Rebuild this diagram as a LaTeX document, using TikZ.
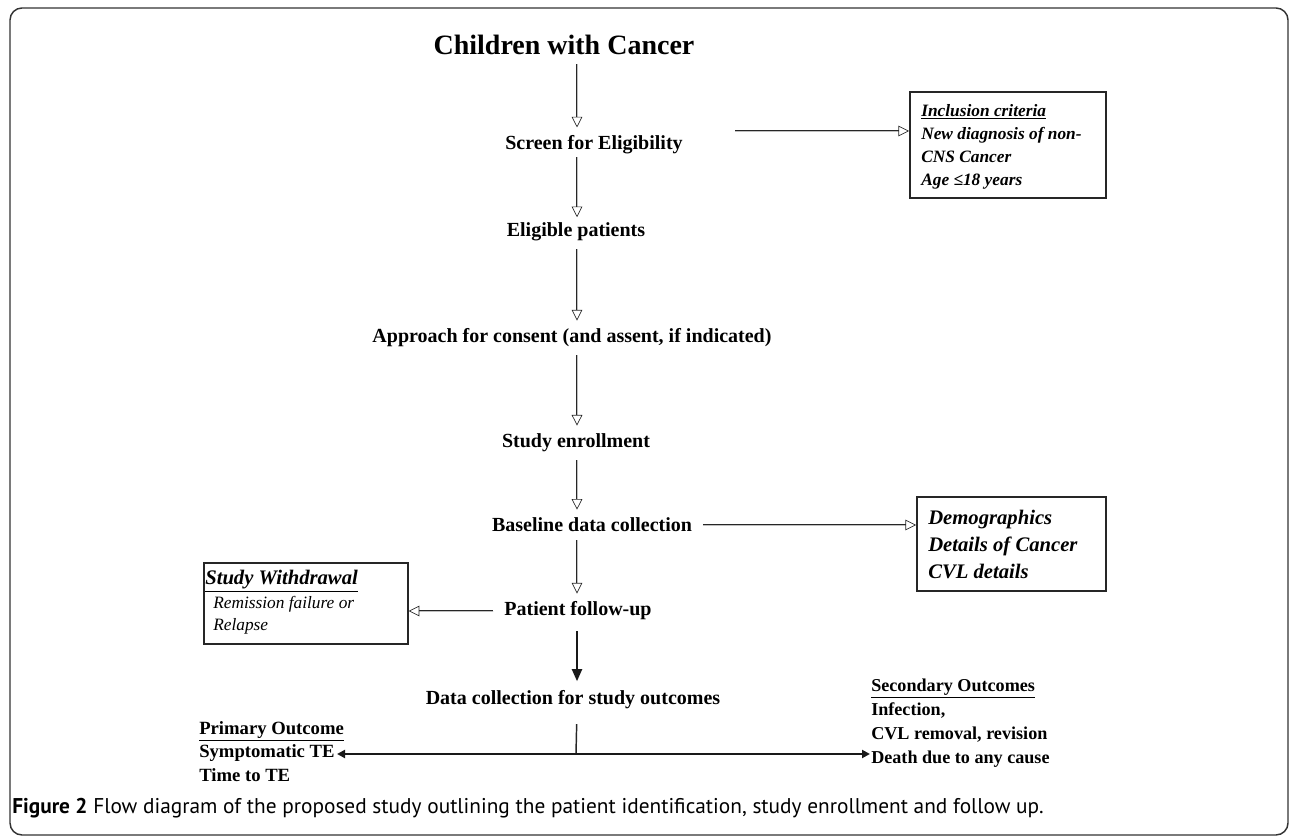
\documentclass[tikz,border=0pt]{standalone}
\usepackage{fontspec}
\setmainfont{Liberation Serif}
\newfontfamily\capfont{PT Sans}
\usetikzlibrary{arrows.meta}
\begin{document}
\begin{tikzpicture}[x=0.75pt,y=-0.75pt,
  main/.style={font=\fontsize{15}{18}\selectfont\bfseries, inner sep=0pt},
  dbl/.style={draw=black!85, double=gray!50, double distance=0.65pt, line width=0.5pt, -{Triangle[open,length=8pt,width=8pt]}},
  sidebox/.style={draw=black!85, line width=1.5pt, inner sep=0pt},
  sidetxt/.style={anchor=north west, align=left, inner sep=0pt},
  solidarr/.style={draw=black!90, line width=2.2pt, -{Triangle[length=6pt,width=6pt]}},
]
\useasboundingbox (0,0) rectangle (1290,837);
\draw[black!80, line width=1.1pt, rounded corners=9pt] (10,8) rectangle (1288,835);

\coordinate (col) at (577,0);

% main column
\node[main, font=\fontsize{21}{24}\selectfont\bfseries] (title) at (564,45) {Children with Cancer};
\node[main] (screen) at (594,145) {Screen for Eligibility};
\node[main] (elig) at (576,232) {Eligible patients};
\node[main] (appr) at (572,338) {Approach for consent (and assent, if indicated)};
\node[main] (enrol) at (576,443) {Study enrollment};
\node[main] (base) at (592,525) {Baseline data collection};
\node[main] (follow) at (578,611) {Patient follow-up};
\node[main] (data) at (573,700) {Data collection for study outcomes};

\draw[dbl, shorten <=7pt, shorten >=6pt] (title.south -| col) -- (screen.north -| col);
\draw[dbl, shorten <=2pt, shorten >=4pt] (screen.south -| col) -- (elig.north -| col);
\draw[dbl, shorten <=6pt, shorten >=6pt] (elig.south -| col) -- (appr.north -| col);
\draw[dbl, shorten <=6pt, shorten >=6pt] (appr.south -| col) -- (enrol.north -| col);
\draw[dbl, shorten <=6pt, shorten >=6pt] (enrol.south -| col) -- (base.north -| col);
\draw[dbl, shorten <=6pt, shorten >=6pt] (base.south -| col) -- (follow.north -| col);
\draw[draw=black!90, line width=1.5pt, -{Triangle[length=9pt,width=7.5pt]}, shorten <=8pt, shorten >=7pt] (follow.south -| col) -- (data.north -| col);

% inclusion box
\node[sidebox, minimum width=147pt, minimum height=79.5pt] (incl) at (1008,145) {};
\node[sidetxt, font=\fontsize{13}{17.25}\selectfont\bfseries\itshape] (incltxt) at (921,104)
  {\underline{Inclusion criteria}\\New diagnosis of non-\\CNS Cancer\\Age ≤18 years};
\coordinate (a1) at (735,131);
\draw[dbl] (a1) -- (a1 -| incl.west);

% demographics box
\node[sidebox, minimum width=141.75pt, minimum height=70.5pt] (demo) at (1011.5,544) {};
\node[sidetxt, font=\fontsize{15.5}{20.25}\selectfont\bfseries\itshape] (demotxt) at (928,510)
  {Demographics\\Details of Cancer\\CVL details};
\draw[dbl, shorten <=8pt] (base.east) -- (base.east -| demo.west);

% withdrawal box
\node[sidebox, line width=1.1pt, minimum width=153pt, minimum height=60.75pt] (wd) at (306,603.5) {};
\node[sidetxt, font=\fontsize{15.5}{18}\selectfont\bfseries\itshape] (wdtitle) at (205,570) {\underline{Study Withdrawal}};
\node[sidetxt, font=\fontsize{13}{16.5}\selectfont\itshape] (wdtxt) at (213,596) {Remission failure or\\Relapse};
\draw[dbl, shorten <=8pt] (follow.west) -- (follow.west -| wd.east);

% outcomes
\node[sidetxt, font=\fontsize{14}{17.6}\selectfont\bfseries] (prim) at (199,721)
  {\underline{Primary Outcome}\\Symptomatic TE\\Time to TE};
\node[sidetxt, font=\fontsize{13.6}{18}\selectfont\bfseries] (sec) at (871,679)
  {\underline{Secondary Outcomes}\\Infection,\\CVL removal, revision\\Death due to any cause};
\coordinate (j) at (576,754);
\coordinate (pl) at (337,754);
\coordinate (pr) at (870,754);
\draw[black!85, line width=1.1pt, shorten <=11pt] (data.south -| col) -- (j);
\draw[solidarr] (j) -- (pl);
\draw[solidarr] (j) -- (pr);

% caption
\node[anchor=west, inner sep=0pt, font=\capfont\fontsize{16}{19}\selectfont] (cap) at (12,808)
  {\textbf{Figure 2} Flow diagram of the proposed study outlining the patient identification, study enrollment and follow up.};
\end{tikzpicture}
\end{document}
